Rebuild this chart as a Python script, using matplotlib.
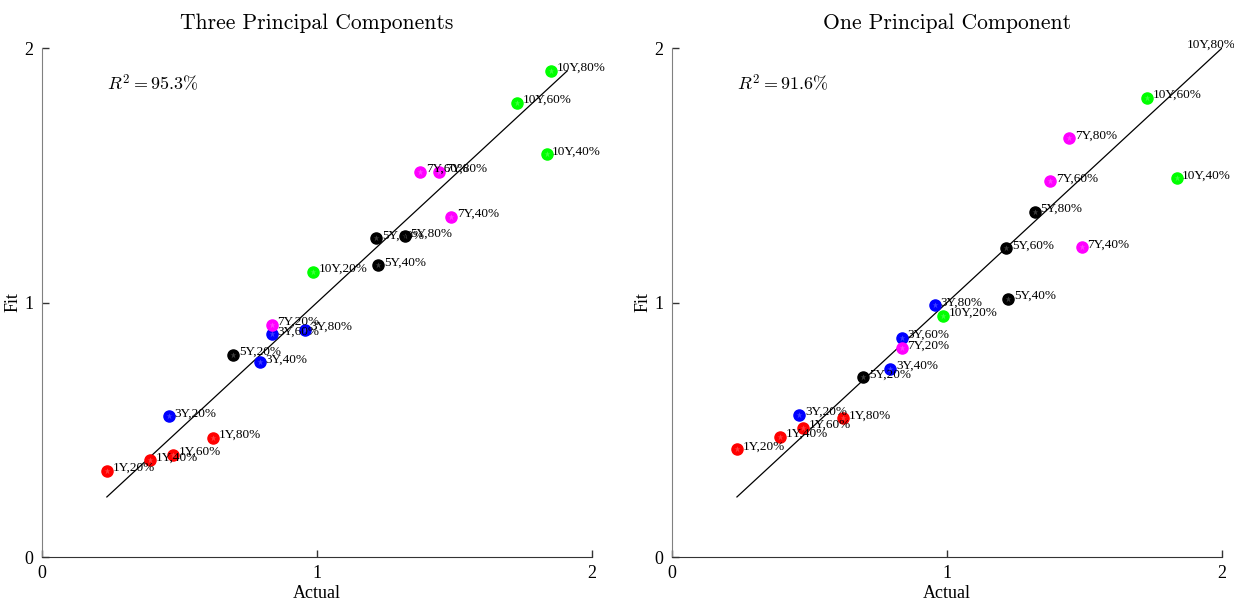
import numpy as np
import matplotlib
matplotlib.use('Agg')
import matplotlib.pyplot as plt

plt.rcParams['mathtext.fontset'] = 'cm'

# Labels (tenor, moneyness) for each point
labels = ['1Y,20%', '1Y,40%', '1Y,60%', '1Y,80%',
          '3Y,20%', '3Y,40%', '3Y,60%', '3Y,80%',
          '5Y,20%', '5Y,40%', '5Y,60%', '5Y,80%',
          '7Y,20%', '7Y,40%', '7Y,60%', '7Y,80%',
          '10Y,20%', '10Y,40%', '10Y,60%', '10Y,80%']
tenor_colors = {'1Y': '#ff0000', '3Y': '#0000ff', '5Y': '#000000',
                '7Y': '#ff00ff', '10Y': '#00ff00'}

actual = [0.238, 0.394, 0.478, 0.623,
          0.463, 0.794, 0.836, 0.956,
          0.696, 1.223, 1.216, 1.320,
          0.836, 1.489, 1.375, 1.445,
          0.985, 1.835, 1.727, 1.851]

fit_three = [0.338, 0.381, 0.401, 0.468,
             0.554, 0.766, 0.876, 0.892,
             0.794, 1.147, 1.253, 1.261,
             0.912, 1.336, 1.513, 1.513,
             1.120, 1.583, 1.784, 1.910]

fit_one = [0.424, 0.472, 0.507, 0.546,
           0.558, 0.739, 0.861, 0.990,
           0.707, 1.014, 1.214, 1.356,
           0.821, 1.218, 1.477, 1.646,
           0.947, 1.489, 1.804, 2.003]

# 45-degree reference line ranges
diag_three = [0.236, 1.910]
diag_one = [0.236, 2.003]

r2_three = 95.3
r2_one = 91.6

panels = [
    ('Three Principal Components', fit_three, diag_three, r2_three),
    ('One Principal Component', fit_one, diag_one, r2_one),
]

fig = plt.figure(figsize=(12.34, 6.04), dpi=100)
positions = [[0.034, 0.0778, 0.4457, 0.8427], [0.5446, 0.0778, 0.4457, 0.8427]]

serif = 'Liberation Serif'
x = np.array(actual)
for pos, (title, fit, diag, r2) in zip(positions, panels):
    ax = fig.add_axes(pos)
    y = np.array(fit)
    ax.plot(diag, diag, color='black', lw=0.9, zorder=1)
    colors = [tenor_colors[l.split(',')[0]] for l in labels]
    inside = y <= 2.0
    for xi, yi, c, show in zip(x, y, colors, inside):
        if show:
            ax.plot(xi, yi, 'o', ms=8, color=c, mec=c, zorder=2)
            ax.plot(xi, yi, '*', ms=5, color='white', alpha=0.25, mec='none', zorder=3)
    for xi, yi, lab in zip(x, y, labels):
        ax.annotate(lab, (xi, yi), xytext=(4, 2), textcoords='offset points',
                    ha='left', va='center', fontsize=9.5, family=serif,
                    annotation_clip=False, zorder=4)
    ax.text(0.236, 1.86, r'$R^2 = %.1f\%%$' % r2, fontsize=13, ha='left', va='center')

    ax.set_xlim(0, 2)
    ax.set_ylim(0, 2)
    ax.set_xticks([0, 1, 2])
    ax.set_yticks([0, 1, 2])
    ax.set_xticklabels(['0', '1', '2'], family=serif, fontsize=13)
    ax.set_yticklabels(['0', '1', '2'], family=serif, fontsize=13)
    ax.tick_params(direction='in', length=5, width=1, color='#333333', pad=6)
    ax.spines['top'].set_visible(False)
    ax.spines['right'].set_visible(False)
    ax.spines['left'].set_color('#808080')
    ax.spines['bottom'].set_color('#333333')
    ax.set_xlabel('Actual', family=serif, fontsize=13, labelpad=2)
    ax.set_ylabel('Fit', family=serif, fontsize=13, labelpad=2)
    ax.set_title(title, family='cmr10', fontsize=15.5, pad=14)

fig.savefig('out.png', dpi=100)
